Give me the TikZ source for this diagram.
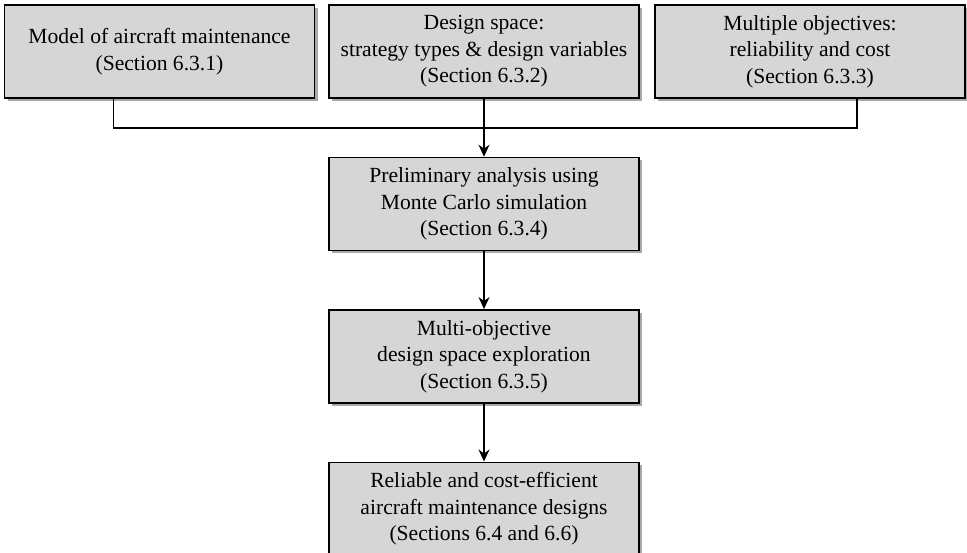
\documentclass[tikz,border=0pt]{standalone}
\usepackage{fontspec}
\setmainfont{Liberation Serif}
\usepackage{tikz}
\usetikzlibrary{positioning,shadows,arrows.meta}
\definecolor{BoxFill}{HTML}{D6D6D6}
\definecolor{BoxShade}{HTML}{A8A8A8}

\begin{document}
\begin{tikzpicture}[x=1pt,y=1pt,>={Stealth[length=12pt,width=11pt]},node distance=58pt]
  \tikzstyle{stagebox}=[draw=black,line width=1.4pt,fill=BoxFill,
    minimum width=310pt,minimum height=93pt,inner sep=0pt,align=center,
    drop shadow={shadow xshift=3pt,shadow yshift=-3pt,fill=BoxShade,opacity=1},
    font=\fontsize{21.6}{26.5}\selectfont]
  \tikzstyle{link}=[line width=1.3pt,color=black]
  \useasboundingbox (0,0) rectangle (967,-552);
  \node[stagebox] (model) at (159.5,-51.5) {Model of aircraft maintenance\\(Section 6.3.1)};
  \node[stagebox] (space) at (484,-51.5) {Design space:\\strategy types \& design variables\\(Section 6.3.2)};
  \node[stagebox] (objectives) at (810,-51.5) {Multiple objectives:\\reliability and cost\\(Section 6.3.3)};
  \node[stagebox,below=of space] (montecarlo) {Preliminary analysis using\\Monte Carlo simulation\\(Section 6.3.4)};
  \node[stagebox,below=of montecarlo] (explore) {Multi-objective\\design space exploration\\(Section 6.3.5)};
  \node[stagebox,below=of explore] (designs) {Reliable and cost-efficient\\aircraft maintenance designs\\(Sections 6.4 and 6.6)};
  \coordinate (join) at (484,-128);
  \draw[link] ([xshift=-46pt]model.south) |- (join);
  \draw[link] ([xshift=47pt]objectives.south) |- (join);
  \draw[link,->] (space) -- (montecarlo);
  \draw[link,->] (montecarlo) -- (explore);
  \draw[link,->] (explore) -- (designs);
\end{tikzpicture}
\end{document}
